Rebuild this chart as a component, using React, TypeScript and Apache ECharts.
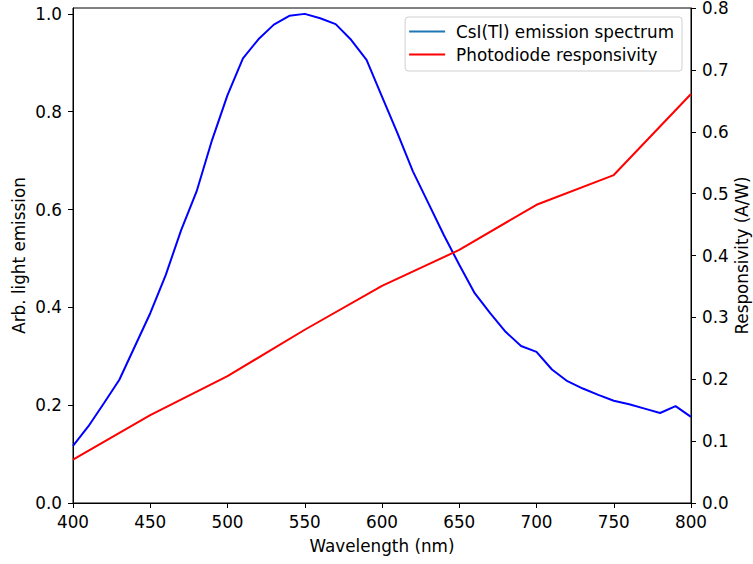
import React, { useEffect, useRef } from "react";
import * as echarts from "echarts";

const wavelengths = [400, 410, 420, 430, 440, 450, 460, 470, 480, 490, 500, 510, 520, 530, 540, 550, 560, 570, 580, 590, 600, 610, 620, 630, 640, 650, 660, 670, 680, 690, 700, 710, 720, 730, 740, 750, 760, 770, 780, 790, 800];
const emission = [0.117, 0.157, 0.204, 0.252, 0.32, 0.388, 0.466, 0.558, 0.637, 0.742, 0.834, 0.909, 0.948, 0.978, 0.996, 1.0, 0.991, 0.979, 0.947, 0.906, 0.831, 0.756, 0.678, 0.613, 0.548, 0.487, 0.429, 0.388, 0.35, 0.321, 0.309, 0.273, 0.249, 0.234, 0.221, 0.209, 0.202, 0.193, 0.184, 0.198, 0.176];
const respWavelengths = [400, 450, 500, 550, 600, 650, 700, 750, 800];
const responsivity = [0.07, 0.142, 0.205, 0.28, 0.351, 0.409, 0.482, 0.53, 0.661];
const leftTicks = [0, 0.2, 0.4, 0.6, 0.8, 1.0];
const seriesNames = ["CsI(Tl) emission spectrum", "Photodiode responsivity"];

const FONT = "DejaVu Sans";
const FS = 16.8;

export default function App() {
  const ref = useRef<HTMLDivElement>(null);
  useEffect(() => {
    const chart = echarts.init(ref.current!, null, { renderer: "svg" });
    const axisCommon = {
      axisLine: { show: true, lineStyle: { color: "#000", width: 1 } },
      axisTick: { show: true, inside: false, length: 5, lineStyle: { color: "#000", width: 1 } },
      splitLine: { show: false },
      nameMoveOverlap: false,
      nameTextStyle: { fontFamily: FONT, fontSize: FS, color: "#000" },
    };
    chart.setOption({
      animation: false,
      backgroundColor: "#fff",
      grid: {
        left: 73,
        right: 62,
        top: 8,
        bottom: 61,
        show: true,
        borderColor: "#000",
        borderWidth: 1,
        backgroundColor: "transparent",
        outerBoundsMode: "none",
        containLabel: false,
      },
      legend: {
        orient: "vertical",
        right: 71,
        top: 17,
        padding: [6, 8, 8, 4],
        itemGap: 6,
        itemWidth: 36,
        itemHeight: 2,
        backgroundColor: "rgba(255,255,255,0.8)",
        borderColor: "#d0d0d0",
        borderWidth: 1,
        borderRadius: 3,
        textStyle: { fontFamily: FONT, fontSize: FS, color: "#000", padding: [0, 0, 0, 6] },
        data: [
          { name: seriesNames[0], icon: "rect", itemStyle: { color: "#1f77b4" } },
          { name: seriesNames[1], icon: "rect", itemStyle: { color: "#ff0000" } },
        ],
      },
      xAxis: {
        type: "value",
        min: 400,
        max: 800,
        interval: 50,
        name: "Wavelength (nm)",
        nameLocation: "middle",
        nameGap: 34,
        ...axisCommon,
        axisLabel: { fontFamily: FONT, fontSize: FS, color: "#000", margin: 10 },
      },
      yAxis: [
        {
          type: "value",
          min: 0,
          max: 1.012,
          name: "Arb. light emission",
          nameLocation: "middle",
          nameGap: 46,
          nameRotate: 90,
          position: "left",
          ...axisCommon,
          axisTick: { ...axisCommon.axisTick, customValues: leftTicks },
          axisLabel: {
            fontFamily: FONT,
            fontSize: FS,
            color: "#000",
            margin: 11,
            customValues: leftTicks,
            formatter: (v: number) => v.toFixed(1),
          },
        },
        {
          type: "value",
          min: 0,
          max: 0.8,
          interval: 0.1,
          name: "Responsivity (A/W)",
          nameLocation: "middle",
          nameGap: 42,
          nameRotate: 90,
          position: "right",
          ...axisCommon,
          axisLabel: {
            fontFamily: FONT,
            fontSize: FS,
            lineHeight: 15,
            color: "#000",
            margin: 11,
            formatter: (v: number) => v.toFixed(1),
          },
        },
      ],
      series: [
        {
          name: seriesNames[0],
          type: "line",
          yAxisIndex: 0,
          symbol: "none",
          lineStyle: { color: "#0000ff", width: 2 },
          itemStyle: { color: "#1f77b4" },
          data: wavelengths.map((w, i) => [w, emission[i]]),
        },
        {
          name: seriesNames[1],
          type: "line",
          yAxisIndex: 1,
          symbol: "none",
          lineStyle: { color: "#ff0000", width: 2 },
          itemStyle: { color: "#ff0000" },
          data: respWavelengths.map((w, i) => [w, responsivity[i]]),
        },
      ],
    });
    return () => chart.dispose();
  }, []);
  return (
    <div
      ref={ref}
      style={{ position: "fixed", left: 0, top: 0, width: 753, height: 564, background: "#fff" }}
    />
  );
}
